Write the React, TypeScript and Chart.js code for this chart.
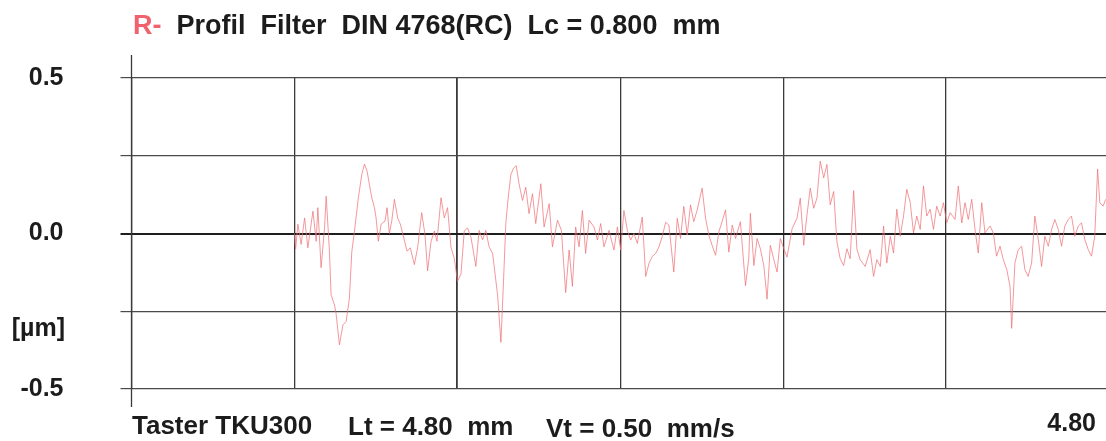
import React, { useEffect, useRef } from "react";
import { Chart, registerables } from "chart.js";

Chart.register(...registerables);

// ---- data ----
const titlePrefix = "R-";
const titleRest = "Profil  Filter  DIN 4768(RC)  Lc = 0.800  mm";
const footerParts = ["Taster TKU300", "Lt = 4.80  mm", "Vt = 0.50  mm/s"];
const xEndLabel = "4.80";
const yUnitLabel = "[µm]";

const xGridTicks = [0, 0.8, 1.6, 2.4, 3.2, 4.0, 4.8];
const yGridTicks = [-0.5, -0.25, 0, 0.25, 0.5];
const yTickText: Record<string, string> = { "0.5": "0.5", "0": "0.0", "-0.5": "-0.5" };

// profile positions (mm)
const positionsMm = [
  0.800, 0.806, 0.817, 0.833, 0.850, 0.866, 0.891, 0.907, 0.915, 0.931,
  0.948, 0.956, 0.972, 0.980, 0.997, 1.005, 1.021, 1.038, 1.054, 1.070,
  1.082, 1.095, 1.114, 1.131, 1.144, 1.157, 1.168, 1.180, 1.193, 1.201,
  1.212, 1.226, 1.245, 1.255, 1.266, 1.278, 1.291, 1.307, 1.320, 1.337,
  1.353, 1.369, 1.389, 1.405, 1.425, 1.441, 1.454, 1.471, 1.487, 1.500,
  1.520, 1.536, 1.552, 1.569, 1.585, 1.601, 1.618, 1.634, 1.650, 1.667,
  1.691, 1.707, 1.724, 1.740, 1.756, 1.773, 1.781, 1.798, 1.814, 1.827,
  1.838, 1.850, 1.863, 1.876, 1.889, 1.903, 1.920, 1.936, 1.952, 1.969,
  1.985, 2.010, 2.026, 2.051, 2.067, 2.092, 2.111, 2.132, 2.149, 2.165,
  2.181, 2.198, 2.214, 2.230, 2.247, 2.271, 2.288, 2.304, 2.320, 2.345,
  2.369, 2.386, 2.402, 2.418, 2.435, 2.451, 2.467, 2.484, 2.508, 2.525,
  2.541, 2.557, 2.574, 2.590, 2.606, 2.623, 2.639, 2.663, 2.680, 2.696,
  2.712, 2.729, 2.745, 2.761, 2.778, 2.802, 2.819, 2.835, 2.851, 2.868,
  2.884, 2.900, 2.917, 2.933, 2.950, 2.966, 2.990, 3.015, 3.031, 3.039,
  3.056, 3.072, 3.088, 3.105, 3.121, 3.137, 3.153, 3.170, 3.186, 3.203,
  3.219, 3.244, 3.268, 3.284, 3.301, 3.317, 3.333, 3.350, 3.366, 3.382,
  3.399, 3.415, 3.431, 3.448, 3.464, 3.480, 3.497, 3.513, 3.529, 3.546,
  3.562, 3.578, 3.603, 3.627, 3.644, 3.660, 3.677, 3.693, 3.709, 3.726,
  3.742, 3.758, 3.775, 3.791, 3.807, 3.824, 3.840, 3.856, 3.873, 3.889,
  3.905, 3.922, 3.938, 3.954, 3.971, 3.987, 4.003, 4.020, 4.044, 4.060,
  4.077, 4.093, 4.109, 4.126, 4.142, 4.158, 4.175, 4.191, 4.216, 4.232,
  4.248, 4.265, 4.281, 4.298, 4.314, 4.322, 4.338, 4.354, 4.371, 4.387,
  4.403, 4.420, 4.436, 4.453, 4.469, 4.485, 4.502, 4.518, 4.534, 4.551,
  4.567, 4.583, 4.600, 4.616, 4.632, 4.649, 4.665, 4.681, 4.698, 4.714,
  4.730, 4.744, 4.755, 4.771, 4.784,
];

// profile heights (µm)
const profileUm = [
  0.000, -0.050, 0.030, -0.035, 0.050, -0.046, 0.072, -0.025, 0.083, -0.110,
  0.018, 0.120, -0.057, -0.197, -0.230, -0.260, -0.358, -0.294, -0.283, -0.208,
  -0.057, 0.008, 0.115, 0.190, 0.223, 0.200, 0.158, 0.115, 0.083, 0.050,
  -0.025, 0.030, 0.040, 0.083, 0.000, 0.040, 0.110, 0.050, 0.030, -0.014,
  -0.057, -0.046, -0.100, -0.046, 0.067, -0.003, -0.120, -0.025, 0.008, -0.025,
  0.115, 0.050, 0.083, -0.046, -0.080, -0.154, -0.130, 0.008, 0.018, -0.012,
  -0.106, 0.010, -0.020, 0.010, -0.043, -0.064, -0.106, -0.200, -0.350, -0.150,
  0.032, 0.117, 0.190, 0.210, 0.218, 0.160, 0.106, 0.149, 0.064, 0.128,
  0.032, 0.160, 0.021, 0.096, -0.043, 0.043, 0.010, -0.190, -0.053, -0.170,
  0.021, -0.043, 0.074, -0.064, 0.043, 0.021, -0.021, 0.032, -0.043, 0.010,
  -0.053, 0.021, -0.053, 0.074, 0.010, -0.021, 0.000, -0.032, 0.053, -0.138,
  -0.096, -0.074, -0.064, -0.043, -0.010, 0.036, 0.027, -0.124, 0.049, -0.016,
  0.087, -0.005, 0.092, 0.038, 0.076, 0.146, 0.049, -0.005, -0.038, -0.070,
  0.005, 0.038, 0.076, -0.060, 0.027, -0.016, 0.038, -0.168, -0.081, 0.065,
  -0.103, -0.016, -0.049, -0.103, -0.211, -0.038, -0.081, -0.124, -0.016, -0.049,
  -0.076, 0.016, 0.049, 0.114, -0.038, 0.060, 0.146, 0.081, 0.114, 0.233,
  0.179, 0.222, 0.092, 0.135, -0.027, -0.081, -0.103, -0.049, -0.081, 0.138,
  -0.050, -0.084, -0.106, -0.052, -0.138, -0.084, -0.106, 0.024, -0.095, -0.009,
  -0.063, 0.078, -0.009, 0.056, 0.142, 0.099, 0.002, 0.056, 0.013, 0.153,
  0.056, 0.078, 0.013, 0.088, 0.056, 0.099, 0.034, 0.067, 0.045, 0.153,
  0.034, 0.099, 0.045, 0.110, 0.013, -0.063, 0.099, 0.002, 0.024, 0.002,
  -0.073, -0.041, -0.084, -0.116, -0.170, -0.305, -0.095, -0.052, -0.041, -0.116,
  -0.138, -0.095, 0.056, -0.019, -0.106, -0.009, -0.041, 0.013, 0.045, 0.013,
  -0.041, 0.024, 0.045, 0.056, -0.009, 0.024, 0.034, -0.019, -0.052, -0.073,
  -0.009, 0.207, 0.099, 0.088, 0.110,
];

const FONT = '"Liberation Sans", Arial, Helvetica, sans-serif';

const textPlugin = {
  id: "profileTexts",
  afterDraw(chart: any) {
    const ctx = chart.ctx;
    const area = chart.chartArea;
    ctx.save();
    // extended left axis line
    ctx.strokeStyle = "#3a3a3a";
    ctx.lineWidth = 1.3;
    ctx.beginPath();
    ctx.moveTo(area.left, 55);
    ctx.lineTo(area.left, 407);
    ctx.stroke();

    ctx.textBaseline = "alphabetic";
    // title
    ctx.font = `bold 27px ${FONT}`;
    ctx.textAlign = "left";
    ctx.fillStyle = "#f0626e";
    ctx.fillText(titlePrefix, 133, 34);
    const w = ctx.measureText(titlePrefix + "  ").width;
    ctx.fillStyle = "#1c1c1c";
    ctx.fillText(titleRest, 133 + w, 34);

    // unit label
    ctx.font = `bold 25px ${FONT}`;
    ctx.textAlign = "right";
    ctx.textBaseline = "middle";
    ctx.fillText(yUnitLabel, 65, 329);

    // x end label
    ctx.textBaseline = "alphabetic";
    ctx.fillText(xEndLabel, 1096, 431);

    // footer
    ctx.font = `bold 26px ${FONT}`;
    ctx.textAlign = "left";
    ctx.fillText(footerParts[0], 132, 434);
    ctx.fillText(footerParts[1], 348, 435);
    ctx.fillText(footerParts[2], 546, 437);
    ctx.restore();
  },
};

export default function App() {
  const canvasRef = useRef<HTMLCanvasElement | null>(null);

  useEffect(() => {
    const canvas = canvasRef.current;
    if (!canvas) return;
    const points = positionsMm.map((x, i) => ({ x, y: profileUm[i] }));
    const chart = new Chart(canvas, {
      type: "line",
      data: {
        datasets: [
          {
            data: points,
            borderColor: "rgba(238, 112, 118, 0.72)",
            borderWidth: 1,
            pointRadius: 0,
            tension: 0,
            fill: false,
          },
        ],
      },
      options: {
        responsive: false,
        animation: false,
        events: [],
        layout: { padding: { left: 0, right: 11, top: 78, bottom: 52 } },
        plugins: { legend: { display: false }, tooltip: { enabled: false }, title: { display: false } },
        scales: {
          x: {
            type: "linear",
            min: 0,
            max: 4.8,
            afterBuildTicks: (scale: any) => {
              scale.ticks = xGridTicks.map((v) => ({ value: v }));
            },
            afterFit: (scale: any) => {
              scale.height = 0;
            },
            ticks: { display: false },
            border: { display: false },
            grid: {
              drawTicks: false,
              color: "#3a3a3a",
              lineWidth: (c: any) => (c.tick && c.tick.value === 1.6 ? 1.8 : 1.3),
            },
          },
          y: {
            min: -0.5,
            max: 0.5,
            afterBuildTicks: (scale: any) => {
              scale.ticks = yGridTicks.map((v) => ({ value: v }));
            },
            afterFit: (scale: any) => {
              scale.width = 131.5;
              scale.paddingTop = 0;
              scale.paddingBottom = 0;
            },
            border: { display: false },
            grid: {
              drawTicks: true,
              tickLength: 11,
              color: (c: any) => (c.tick && c.tick.value === 0 ? "#1e1e1e" : "#4a4a4a"),
              lineWidth: (c: any) => (c.tick && c.tick.value === 0 ? 2 : 1.2),
            },
            ticks: {
              padding: 57,
              color: "#1c1c1c",
              font: { family: FONT, size: 25, weight: "bold" },
              callback: (v: any) => yTickText[String(v)] ?? "",
            },
          },
        },
      },
      plugins: [textPlugin],
    } as any);
    return () => chart.destroy();
  }, []);

  return (
    <div
      style={{
        position: "fixed",
        left: 0,
        top: 0,
        width: 1106,
        height: 441,
        overflow: "hidden",
        background: "#ffffff",
      }}
    >
      <canvas ref={canvasRef} width={1120} height={441} style={{ width: 1120, height: 441, display: "block" }} />
    </div>
  );
}
